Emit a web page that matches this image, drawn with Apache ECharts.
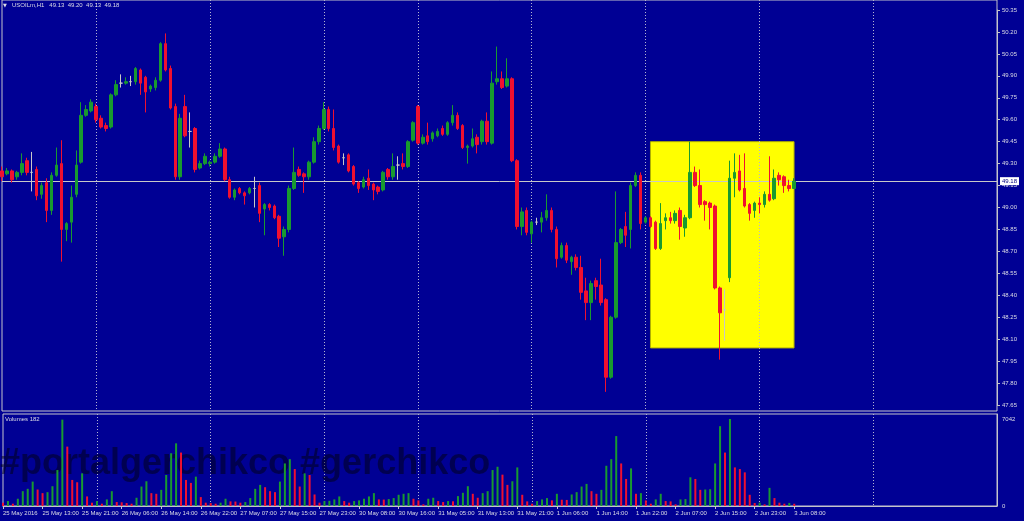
<!DOCTYPE html>
<html><head><meta charset="utf-8">
<script src="https://cdn.jsdelivr.net/npm/echarts@6/dist/echarts.min.js"></script>
<style>html,body{margin:0;padding:0;background:#000094;}#c{width:1024px;height:521px;}</style>
</head><body><div id="c"></div>
<script>
const symbolName = 'USOILm,H1';
const tickLabels = ['25 May 2016','25 May 13:00','25 May 21:00','26 May 06:00','26 May 14:00','26 May 22:00',
  '27 May 07:00','27 May 15:00','27 May 23:00','30 May 08:00','30 May 16:00','31 May 05:00','31 May 13:00',
  '31 May 21:00','1 Jun 06:00','1 Jun 14:00','1 Jun 22:00','2 Jun 07:00','2 Jun 15:00','2 Jun 23:00','3 Jun 08:00'];
const tickStep = 8;
const dayStartBars = [19,42,65,84,107,130,153,176];
const slotCount = 202;
const priceTicks = {min:47.65, max:50.35, step:0.15};
const opens = [49.25,49.23,49.25,49.21,49.24,49.32,49.24,49.26,49.09,49.17,
48.98,49.22,49.30,48.85,48.90,49.09,49.31,49.63,49.66,49.69,
49.61,49.56,49.55,49.77,49.85,49.85,49.86,49.86,49.94,49.89,
49.81,49.82,49.87,50.12,49.95,49.69,49.21,49.69,49.52,49.54,
49.27,49.30,49.30,49.31,49.35,49.40,49.19,49.07,49.13,49.10,
49.10,49.13,49.15,48.99,49.02,49.01,48.94,48.80,48.85,49.13,
49.26,49.23,49.21,49.31,49.45,49.54,49.67,49.54,49.42,49.34,
49.36,49.28,49.17,49.14,49.20,49.16,49.14,49.12,49.26,49.21,
49.29,49.30,49.28,49.46,49.69,49.44,49.49,49.47,49.49,49.54,
49.50,49.58,49.63,49.56,49.41,49.42,49.48,49.45,49.59,49.44,
49.86,49.88,49.83,49.88,49.32,48.87,48.98,48.82,48.90,48.90,
48.93,48.98,48.85,48.66,48.74,48.63,48.66,48.59,48.43,48.35,
48.50,48.47,48.37,47.84,48.25,48.76,48.87,48.85,49.15,49.22,
48.90,48.93,48.90,48.72,48.91,48.93,48.91,48.98,48.86,48.93,
49.24,49.15,49.04,49.03,49.01,48.45,48.30,48.52,49.20,49.25,
49.13,49.02,48.98,49.03,49.02,49.09,49.06,49.22,49.21,49.15,49.13];
const highs = [49.28,49.27,49.26,49.25,49.37,49.34,49.38,49.28,49.17,49.20,
49.24,49.41,49.46,48.90,49.15,49.39,49.72,49.70,49.74,49.71,
49.63,49.58,49.78,49.87,49.91,49.89,49.90,49.96,49.95,49.90,
49.84,49.89,50.13,50.19,49.97,49.71,49.64,49.77,49.65,49.55,
49.32,49.37,49.32,49.37,49.44,49.41,49.21,49.13,49.14,49.11,
49.14,49.21,49.17,49.03,49.03,49.02,48.95,48.87,49.15,49.41,
49.28,49.24,49.32,49.48,49.56,49.72,49.69,49.67,49.43,49.37,
49.37,49.29,49.18,49.21,49.26,49.17,49.15,49.25,49.27,49.37,
49.35,49.37,49.46,49.59,49.70,49.50,49.58,49.52,49.54,49.56,
49.59,49.70,49.65,49.57,49.43,49.54,49.50,49.60,49.65,49.93,
50.10,49.93,50.02,49.89,49.33,49.00,49.00,48.91,48.93,48.97,
49.09,49.00,48.87,48.76,48.76,48.67,48.68,48.67,48.52,48.50,
48.52,48.65,48.38,48.26,49.11,48.86,48.97,49.17,49.24,49.24,
48.94,48.94,48.91,49.03,48.96,48.97,48.98,49.00,48.95,49.45,
49.28,49.26,49.05,49.04,49.02,48.46,48.44,49.32,49.37,49.36,
49.37,49.03,49.04,49.07,49.11,49.35,49.26,49.24,49.22,49.19,49.20];
const lows = [49.18,49.22,49.17,49.19,49.22,49.22,49.11,49.05,49.06,48.90,
48.95,49.21,48.63,48.77,48.76,49.07,49.30,49.62,49.65,49.58,
49.54,49.52,49.54,49.76,49.82,49.84,49.83,49.84,49.77,49.65,
49.79,49.80,49.86,49.93,49.67,49.19,49.19,49.48,49.41,49.24,
49.26,49.29,49.28,49.30,49.34,49.18,49.06,49.05,49.09,49.02,
49.09,49.00,48.90,48.81,48.98,48.92,48.73,48.67,48.83,49.12,
49.21,49.10,49.19,49.30,49.43,49.53,49.52,49.39,49.30,49.29,
49.24,49.15,49.10,49.13,49.12,49.05,49.09,49.11,49.19,49.19,
49.19,49.26,49.27,49.45,49.43,49.43,49.43,49.45,49.48,49.49,
49.49,49.56,49.53,49.40,49.30,49.41,49.37,49.43,49.43,49.43,
49.84,49.81,49.82,49.31,48.85,48.81,48.81,48.76,48.88,48.83,
48.91,48.83,48.59,48.65,48.62,48.54,48.57,48.37,48.23,48.23,
48.37,48.33,47.74,47.83,48.24,48.75,48.73,48.72,49.14,48.85,
48.89,48.86,48.71,48.71,48.85,48.89,48.89,48.78,48.80,48.92,
49.14,49.00,48.91,48.85,48.44,47.96,48.09,48.49,49.07,49.11,
49.00,48.91,48.93,48.96,49.00,49.04,49.05,49.15,49.10,49.11,49.13];
const closes = [49.21,49.25,49.19,49.24,49.30,49.24,49.24,49.08,49.15,48.98,
49.22,49.29,48.85,48.89,49.07,49.29,49.63,49.67,49.72,49.60,
49.55,49.54,49.77,49.84,49.85,49.86,49.86,49.95,49.85,49.79,
49.83,49.87,50.12,49.94,49.68,49.21,49.61,49.49,49.52,49.26,
49.30,49.35,49.31,49.35,49.40,49.19,49.07,49.12,49.10,49.08,
49.13,49.13,48.96,49.02,49.00,48.93,48.79,48.85,49.13,49.24,
49.22,49.21,49.31,49.45,49.54,49.67,49.54,49.41,49.31,49.34,
49.25,49.16,49.13,49.19,49.15,49.12,49.11,49.24,49.21,49.28,
49.29,49.28,49.45,49.58,49.44,49.48,49.45,49.51,49.52,49.50,
49.58,49.63,49.54,49.41,49.42,49.47,49.43,49.59,49.45,49.85,
49.88,49.82,49.88,49.32,48.87,48.97,48.83,48.90,48.90,48.93,
48.98,48.85,48.65,48.74,48.64,48.66,48.59,48.42,48.35,48.48,
48.46,48.35,47.84,48.25,48.76,48.85,48.81,49.15,49.22,48.89,
48.93,48.87,48.72,48.89,48.93,48.91,48.96,48.87,48.93,49.24,
49.15,49.02,49.02,49.00,48.45,48.28,48.30,49.20,49.24,49.12,
49.01,48.96,49.03,49.02,49.09,49.05,49.20,49.19,49.15,49.13,49.18];
const volumes = [267,400,187,587,1200,1390,1976,1335,1041,1121,
1602,2910,6990,4806,2109,1922,2643,774,267,400,
187,534,1200,320,300,240,187,667,1575,2002,
1041,988,1308,2510,4272,5073,4325,2109,1869,2376,
721,267,240,187,267,587,374,360,267,320,
641,1388,1709,1522,1200,1121,1976,3444,3791,2990,
1575,2643,2510,934,267,400,420,534,774,400,
267,400,454,587,774,1041,534,520,560,641,
908,988,1041,587,454,134,587,667,400,320,
400,380,801,1068,1602,988,667,1041,1200,2910,
3177,2537,1709,2002,3124,908,374,187,400,534,
641,454,988,507,490,934,1121,1575,1789,1200,
988,1308,3257,3791,5660,3444,2189,3044,988,1041,
454,187,534,988,400,374,134,534,560,2323,
2189,1308,1335,1360,3444,6461,4325,7042,3124,2990,
2723,908,240,267,134,1468,641,267,187,250,
182];
const bidPrice = 49.18;
const boxBars = [131, 160];
const boxPrices = [48.04, 49.45];

const BG = '#000094', FRAME = '#c4c4cc', TXT = '#dcdce6', UP = '#189a30', DN = '#f01030', GRIDC = '#b4b4d0';
const FONT = 'Liberation Sans';
const last = opens.length - 1;
const volMax = Math.max(...volumes);
const categories = Array.from({length: slotCount}, (_, i) => String(i));
const candleData = opens.map((o, i) => [o, closes[i], lows[i], highs[i]]);
const isTick = i => i % tickStep === 0 && i / tickStep < tickLabels.length;
const isDay = i => dayStartBars.indexOf(i) >= 0;

const chart = echarts.init(document.getElementById('c'));
chart.setOption({
  backgroundColor: BG,
  animation: false,
  textStyle: {fontFamily: FONT},
  grid: [
    {left: 2, right: 27, top: 10, height: 395},
    {left: 2, right: 27, top: 414, height: 92, show: true, borderColor: FRAME, borderWidth: 1},
    {left: 2, right: 27, top: 0, height: 411, show: true, borderColor: FRAME, borderWidth: 1}
  ],
  xAxis: [
    {type: 'category', gridIndex: 0, data: categories, boundaryGap: false, show: false},
    {type: 'category', gridIndex: 1, data: categories, boundaryGap: false, z: 3,
      axisLine: {show: true, lineStyle: {color: FRAME}},
      axisTick: {show: true, interval: i => isTick(i), length: 3, lineStyle: {color: FRAME}},
      axisLabel: {show: true, interval: i => isTick(i), align: 'left', margin: 4,
        formatter: (v, i) => tickLabels[i / tickStep] || '', color: TXT, fontSize: 6, fontFamily: FONT},
      splitLine: {show: true, interval: i => isDay(i), lineStyle: {color: GRIDC, type: [1, 2], width: 1}}},
    {type: 'category', gridIndex: 2, data: categories, boundaryGap: false, z: 3,
      axisLine: {show: false}, axisTick: {show: false}, axisLabel: {show: false},
      splitLine: {show: true, interval: i => isDay(i), lineStyle: {color: GRIDC, type: [1, 2], width: 1}}}
  ],
  yAxis: [
    {type: 'value', gridIndex: 0, position: 'right', min: priceTicks.min, max: priceTicks.max, interval: priceTicks.step,
      axisLine: {show: true, lineStyle: {color: FRAME}},
      axisTick: {show: true, length: 3, lineStyle: {color: FRAME}},
      axisLabel: {color: TXT, fontSize: 6, fontFamily: FONT, margin: 5, formatter: v => v.toFixed(2)},
      splitLine: {show: false}},
    {type: 'value', gridIndex: 1, position: 'right', min: 0, max: Math.round(volMax * 92 / 87), interval: volMax,
      axisLine: {show: true, lineStyle: {color: FRAME}}, axisTick: {show: false},
      axisLabel: {color: TXT, fontSize: 6, fontFamily: FONT, margin: 5, showMaxLabel: false,
        formatter: v => (v === 0 || v === volMax) ? String(v) : ''},
      splitLine: {show: false}},
    {type: 'value', gridIndex: 2, show: false}
  ],
  series: [
    {type: 'line', xAxisIndex: 0, yAxisIndex: 0, data: [], z: 1, silent: true,
      markArea: {silent: true, itemStyle: {color: '#ffff00', borderColor: '#b0b000', borderWidth: 1},
        data: [[{xAxis: String(boxBars[0]), yAxis: boxPrices[1]}, {xAxis: String(boxBars[1]), yAxis: boxPrices[0]}]]}},
    {type: 'candlestick', xAxisIndex: 0, yAxisIndex: 0, data: candleData, barWidth: 3, z: 5, clip: false,
      itemStyle: {color: UP, color0: DN, borderColor: UP, borderColor0: DN, borderColorDoji: '#c8c8c8', borderWidth: 1},
      markLine: {silent: true, symbol: ['none', 'none'], animation: false,
        lineStyle: {color: '#c8c8c8', width: 1, type: 'solid'},
        label: {position: 'end', distance: 3, formatter: bidPrice.toFixed(2), backgroundColor: '#ffffff',
          color: '#000080', fontSize: 6, fontFamily: FONT, padding: [1, 2]},
        data: [{yAxis: bidPrice}]}},
    {type: 'bar', xAxisIndex: 1, yAxisIndex: 1, data: volumes, barWidth: 2, z: 5,
      itemStyle: {color: p => (p.dataIndex > 0 && volumes[p.dataIndex] > volumes[p.dataIndex - 1]) ? UP : DN}}
  ],
  graphic: [
    {type: 'text', left: 3, top: 3, z: 10, style: {text: '\u25BC', fill: TXT, font: '5px "DejaVu Sans"'}},
    {type: 'text', left: 12, top: 2, z: 10, style: {
      text: symbolName + '   ' + [opens[last], highs[last], lows[last], closes[last]].map(v => v.toFixed(2)).join('  '),
      fill: TXT, font: '6px "Liberation Sans"'}},
    {type: 'text', left: 5, top: 416, z: 10, style: {text: 'Volumes ' + volumes[last], fill: TXT, font: '6px "Liberation Sans"'}},
    {type: 'text', left: 0, top: 446, z: 4, style: {text: '#portalgerchikco #gerchikco', fill: 'rgba(0,0,0,0.45)',
      font: 'bold 36px "Liberation Sans"'}}
  ]
});
</script></body></html>
